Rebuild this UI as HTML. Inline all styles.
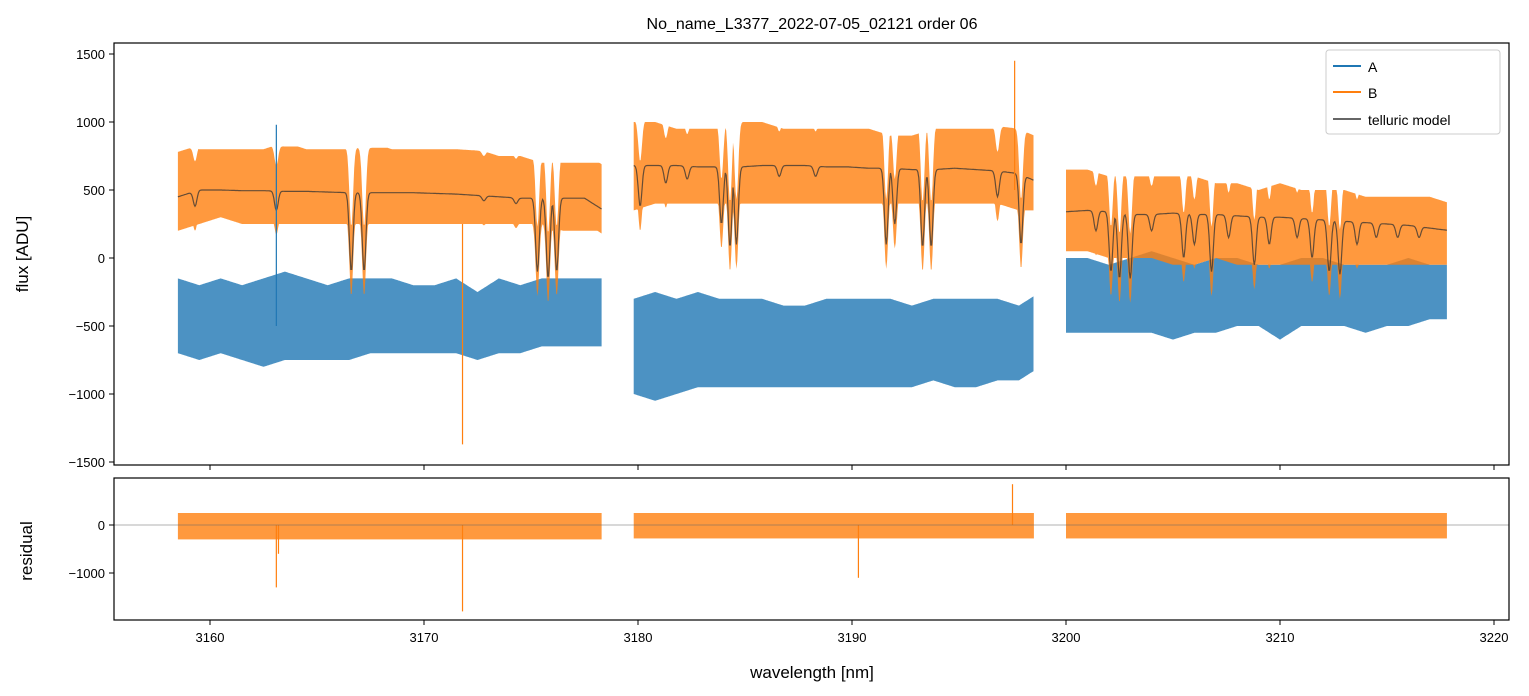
<!DOCTYPE html>
<html><head><meta charset="utf-8"><style>
body{margin:0;background:#fff;}
svg{display:block;font-family:"Liberation Sans","DejaVu Sans",sans-serif;}
</style></head><body>
<svg id="chart" width="1529" height="696" xmlns="http://www.w3.org/2000/svg">
<rect width="1529" height="696" fill="#fff"/>
<text x="812" y="29" font-size="16" text-anchor="middle">No_name_L3377_2022-07-05_02121  order 06</text>
<g id="main"></g>
<g id="res"></g>
<rect x="114" y="43" width="1395" height="422" fill="none" stroke="#000" stroke-width="1.2"/>
<rect x="114" y="478" width="1395" height="142" fill="none" stroke="#000" stroke-width="1.2"/>
<g id="ticks"></g>
<text x="812" y="678" font-size="17" text-anchor="middle">wavelength [nm]</text>
<text transform="translate(28,254) rotate(-90)" font-size="17" text-anchor="middle">flux [ADU]</text>
<text transform="translate(32,551) rotate(-90)" font-size="17" text-anchor="middle">residual</text>
<g>
<rect x="1326" y="50" width="174" height="84" rx="3" fill="#fff" fill-opacity="0.8" stroke="#ccc"/>
<line x1="1333" y1="66" x2="1361" y2="66" stroke="#1f77b4" stroke-width="2"/>
<text x="1368" y="72" font-size="14">A</text>
<line x1="1333" y1="92" x2="1361" y2="92" stroke="#ff7f0e" stroke-width="2"/>
<text x="1368" y="98" font-size="14">B</text>
<line x1="1333" y1="119" x2="1361" y2="119" stroke="#666" stroke-width="2"/>
<text x="1368" y="125" font-size="14">telluric model</text>
</g>
</svg>
<script>
const segStarts=[3158.5,3179.8,3200.0];
const segEnds=[3178.3,3198.5,3217.8];
const aHi=[[-150,-200,-150,-200,-150,-100,-150,-200,-150,-150,-150,-200,-200,-150,-250,-150,-200,-150,-150,-150,-150],
[-300,-250,-300,-250,-300,-300,-300,-350,-350,-300,-300,-300,-300,-350,-300,-300,-300,-300,-350,-250],
[0,0,-50,0,50,0,-50,0,0,-50,-50,0,0,-50,-50,-50,0,-50,-50]];
const aLo=[[-700,-750,-700,-750,-800,-750,-750,-750,-750,-700,-700,-700,-700,-700,-750,-700,-700,-650,-650,-650,-650],
[-1000,-1050,-1000,-950,-950,-950,-950,-950,-950,-950,-950,-950,-950,-950,-900,-950,-950,-900,-900,-800],
[-550,-550,-550,-550,-550,-600,-550,-550,-500,-500,-600,-500,-500,-500,-550,-500,-500,-450,-450]];
const bHi=[[850,800,800,800,800,850,800,800,800,850,800,800,800,800,800,750,750,700,700,700,700],
[1000,1000,950,950,950,1000,1000,950,950,950,950,950,900,900,950,950,950,950,1000,950],
[650,650,600,600,600,600,600,550,550,500,550,500,500,500,450,450,450,450,400]];
const bLo=[[200,250,300,250,250,250,250,250,250,250,250,250,250,250,250,250,250,250,200,200,200],
[350,400,400,400,400,400,400,400,400,400,400,400,400,400,400,400,400,400,350,350],
[50,50,0,0,0,-50,-50,0,-50,-50,-50,-50,-50,-50,-50,-50,-50,-50,-50]];
const modelLevel=[[450,500,500,495,495,490,490,485,480,480,480,480,475,470,460,450,440,440,440,440,340],
[680,680,680,670,670,670,680,680,680,670,670,660,660,650,650,660,650,640,620,550],
[340,350,340,320,320,330,320,320,310,300,300,290,280,270,260,250,240,220,200]];
const dipCenters=[3159.3,3163.1,3166.6,3167.2,3172.8,3174.3,3175.3,3175.8,3176.2,
3180.1,3181.3,3182.3,3183.9,3184.3,3184.6,3186.6,3188.3,3191.6,3192.0,3193.3,3193.7,3196.8,3197.9,
3201.4,3202.1,3202.5,3203.0,3204.0,3205.5,3206.0,3206.8,3207.6,3208.8,3209.5,3210.8,3211.5,3212.3,3212.8,3213.6,3214.5,3215.5,3216.5];
const dipMins=[380,350,-100,-100,420,400,-100,-150,-100,
380,550,580,250,80,100,600,600,100,250,80,80,450,100,
200,-100,-150,-150,200,0,100,-100,150,-50,100,150,0,-100,-120,100,150,150,150];
const resHi=[250,250,250];
const resLo=[-300,-280,-280];
const spikeX=[3163.1,3171.8,3197.6,3163.1,3171.8,3190.3,3197.5,3163.2];
const spikeTop=[980,250,1450,0,0,0,850,0];
const spikeBot=[-500,-1370,500,-1300,-1800,-1100,0,-600];
const spikeSer=['A','B','B','R','R','R','R','R'];
const xTicks=[3160,3170,3180,3190,3200,3210,3220];
const yTicks=[1500,1000,500,0,-500,-1000,-1500];
const rTicks=[0,-1000];

const X=w=>210+(w-3160)*21.4;
const Y=v=>258-v*0.136;
const R=v=>525-v*0.048;
const NS='http://www.w3.org/2000/svg';
function mk(tag,attrs,parent){const e=document.createElementNS(NS,tag);for(const k in attrs)e.setAttribute(k,attrs[k]);parent.appendChild(e);return e;}
function interp(arr,s,w){const t=w-segStarts[s];const i=Math.min(Math.floor(t),arr.length-2);const f=Math.min(t-i,1);return arr[i]*(1-f)+arr[i+1]*f;}
function model(s,w){let m=interp(modelLevel[s],s,w);const lv=m;for(let k=0;k<dipCenters.length;k++){const d=(w-dipCenters[k])/0.12;if(Math.abs(d)<6){m=Math.min(m,dipMins[k]+(lv-dipMins[k])*(1-Math.exp(-d*d)));}}return m;}
const main=document.getElementById('main'),res=document.getElementById('res'),tk=document.getElementById('ticks');
for(let s=0;s<3;s++){
  const ws=[];for(let w=segStarts[s];w<=segEnds[s]+1e-9;w+=0.04)ws.push(w);
  let up='',dn='';
  ws.forEach(w=>{up+=X(w).toFixed(1)+','+Y(interp(aHi[s],s,w)).toFixed(1)+' ';});
  ws.slice().reverse().forEach(w=>{dn+=X(w).toFixed(1)+','+Y(interp(aLo[s],s,w)).toFixed(1)+' ';});
  const pa=mk('polygon',{points:up+dn,fill:'#1f77b4','fill-opacity':0.8},main);
  
  
  up='';dn='';
  ws.forEach(w=>{const m=model(s,w);up+=X(w).toFixed(1)+','+Y(Math.min(interp(bHi[s],s,w),m+330)).toFixed(1)+' ';});
  ws.slice().reverse().forEach(w=>{const m=model(s,w);dn+=X(w).toFixed(1)+','+Y(Math.min(interp(bLo[s],s,w),m-180)).toFixed(1)+' ';});
  const pb=mk('polygon',{points:up+dn,fill:'#ff7f0e','fill-opacity':0.8},main);
  
  
  let ml='';ws.forEach(w=>{ml+=X(w).toFixed(1)+','+Y(model(s,w)).toFixed(1)+' ';});
  const pm=mk('polyline',{points:ml,fill:'none',stroke:'#333','stroke-opacity':0.75,'stroke-width':1.2},main);
  
  
  const pr=mk('rect',{x:X(segStarts[s]),y:R(resHi[s]),width:X(segEnds[s])-X(segStarts[s]),height:R(resLo[s])-R(resHi[s]),fill:'#ff7f0e','fill-opacity':0.8},res);
  
  
}
spikeX.forEach((w,i)=>{
  const r=spikeSer[i]==='R';const f=r?R:Y;
  const l=mk('line',{x1:X(w),x2:X(w),y1:f(spikeTop[i]),y2:f(spikeBot[i]),stroke:spikeSer[i]==='A'?'#1f77b4':'#ff7f0e','stroke-width':1.2},r?res:main);
  
  
});
const zl=mk('line',{x1:114,x2:1509,y1:R(0),y2:R(0),stroke:'#666','stroke-width':0.6},res);


xTicks.forEach(t=>{
  mk('line',{x1:X(t),x2:X(t),y1:465,y2:470,stroke:'#000'},tk);
  mk('line',{x1:X(t),x2:X(t),y1:620,y2:625,stroke:'#000'},tk);
  const tx=mk('text',{x:X(t),y:642,'font-size':13,'text-anchor':'middle'},tk);tx.textContent=t;
  
  
});
yTicks.forEach(t=>{
  mk('line',{x1:109,x2:114,y1:Y(t),y2:Y(t),stroke:'#000'},tk);
  const tx=mk('text',{x:105,y:Y(t)+5,'font-size':13,'text-anchor':'end'},tk);tx.textContent=t<0?'\u2212'+(-t):t;
  
  
});
rTicks.forEach(t=>{
  mk('line',{x1:109,x2:114,y1:R(t),y2:R(t),stroke:'#000'},tk);
  const tx=mk('text',{x:105,y:R(t)+5,'font-size':13,'text-anchor':'end'},tk);tx.textContent=t<0?'\u2212'+(-t):t;
  
  
});
</script>
</body></html>
